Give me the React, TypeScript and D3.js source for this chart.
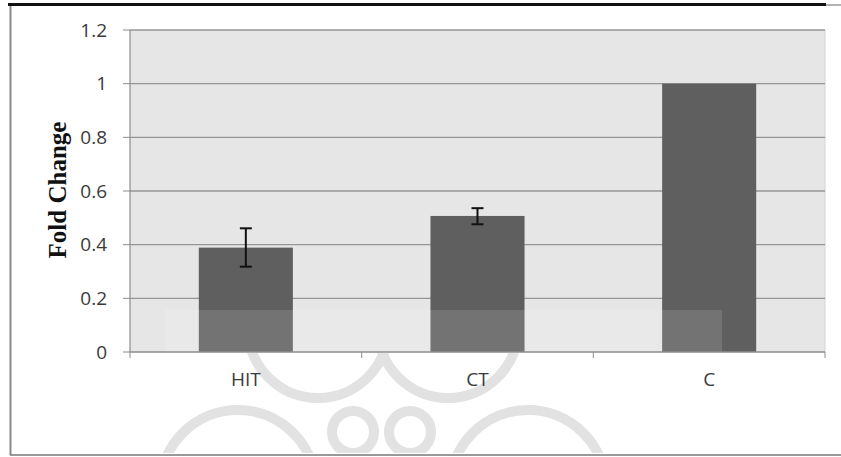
import { useEffect, useRef } from 'react';
import * as d3 from 'd3';

const categories = ['HIT', 'CT', 'C'];
const foldValues = [0.389, 0.507, 1.0];
const errLow = [0.318, 0.476, null];
const errHigh = [0.461, 0.536, null];
const yTicks = [0, 0.2, 0.4, 0.6, 0.8, 1, 1.2];

const W = 841;
const H = 457;

export default function App() {
  const ref = useRef<SVGSVGElement>(null);

  useEffect(() => {
    if (!ref.current) return;
    const svg = d3.select(ref.current);
    svg.selectAll('*').remove();

    const margin = { top: 30, right: 16, bottom: 105, left: 130 };
    const width = W - margin.left - margin.right;
    const height = H - margin.top - margin.bottom;

    // outer frame
    svg.append('rect').attr('width', W).attr('height', H).attr('fill', '#fff');
    svg.append('line')
      .attr('x1', 8).attr('x2', 826).attr('y1', 4.5).attr('y2', 4.5)
      .attr('stroke', '#111').attr('stroke-width', 3);
    svg.append('line')
      .attr('x1', 826).attr('x2', 841).attr('y1', 5).attr('y2', 5)
      .attr('stroke', '#666').attr('stroke-width', 1);
    svg.append('line')
      .attr('x1', 10.5).attr('x2', 10.5).attr('y1', 6).attr('y2', 455)
      .attr('stroke', '#8a8a8a').attr('stroke-width', 2);
    svg.append('line')
      .attr('x1', 10).attr('x2', W).attr('y1', 455).attr('y2', 455)
      .attr('stroke', '#777').attr('stroke-width', 1.5);

    // watermark arcs below the axis (drawn first, behind the labels)
    svg.append('clipPath').attr('id', 'wm-clip')
      .append('rect').attr('x', 12).attr('y', margin.top + height + 1)
      .attr('width', W).attr('height', 453 - (margin.top + height + 1));
    const wm = svg.append('g').attr('clip-path', 'url(#wm-clip)');
    const rings = [
      { cx: 318, cy: 328, r: 70 },
      { cx: 448, cy: 328, r: 70 },
      { cx: 353, cy: 432, r: 21 },
      { cx: 410, cy: 432, r: 21 },
      { cx: 238, cy: 488, r: 78 },
      { cx: 528, cy: 488, r: 78 },
    ];
    wm.selectAll('circle').data(rings).join('circle')
      .attr('cx', d => d.cx).attr('cy', d => d.cy).attr('r', d => d.r)
      .attr('fill', 'none').attr('stroke', '#e2e2e2').attr('stroke-width', 10);

    const g = svg.append('g').attr('transform', `translate(${margin.left},${margin.top})`);

    const x = d3.scaleBand().domain(categories).range([0, width]).paddingInner(0.594).paddingOuter(0.297);
    const xc = d3.scaleBand().domain(categories).range([0, width]);
    const y = d3.scaleLinear().domain([0, 1.2]).range([height, 0]);

    // plot background
    g.append('rect').attr('width', width).attr('height', height).attr('fill', '#e6e6e6');
    g.append('line')
      .attr('x1', width).attr('x2', width).attr('y1', 0).attr('y2', height)
      .attr('stroke', '#d4d4d4');

    // gridlines
    g.selectAll('.grid')
      .data(yTicks.filter(d => d > 0))
      .join('line')
      .attr('x1', 0).attr('x2', width)
      .attr('y1', d => y(d)).attr('y2', d => y(d))
      .attr('stroke', '#969696').attr('stroke-width', 1.3);

    // bars
    g.selectAll('.bar')
      .data(categories)
      .join('rect')
      .attr('x', d => x(d)!)
      .attr('y', (d, i) => y(foldValues[i]))
      .attr('width', x.bandwidth())
      .attr('height', (d, i) => height - y(foldValues[i]))
      .attr('fill', '#5f5f5f');

    // watermark lightening band
    g.append('rect')
      .attr('x', 165 - margin.left).attr('y', 310 - margin.top)
      .attr('width', 722 - 165).attr('height', height - (310 - margin.top))
      .attr('fill', '#fff').attr('opacity', 0.13);

    // error bars
    const errData = categories
      .map((c, i) => ({ c, lo: errLow[i], hi: errHigh[i] }))
      .filter(d => d.lo != null && d.hi != null) as { c: string; lo: number; hi: number }[];
    const eg = g.selectAll('.err').data(errData).join('g')
      .attr('transform', d => `translate(${x(d.c)! + x.bandwidth() / 2},0)`);
    eg.append('line')
      .attr('y1', d => y(d.lo)).attr('y2', d => y(d.hi))
      .attr('stroke', '#111').attr('stroke-width', 2);
    eg.append('line')
      .attr('x1', -6).attr('x2', 6)
      .attr('y1', d => y(d.hi)).attr('y2', d => y(d.hi))
      .attr('stroke', '#111').attr('stroke-width', 2);
    eg.append('line')
      .attr('x1', -6).attr('x2', 6)
      .attr('y1', d => y(d.lo)).attr('y2', d => y(d.lo))
      .attr('stroke', '#111').attr('stroke-width', 2);

    // axes
    g.append('line')
      .attr('x1', 0).attr('x2', width).attr('y1', height).attr('y2', height)
      .attr('stroke', '#8c8c8c').attr('stroke-width', 1.5);
    g.append('line')
      .attr('x1', 0).attr('x2', 0).attr('y1', 0).attr('y2', height)
      .attr('stroke', '#8c8c8c').attr('stroke-width', 1.2);

    g.selectAll('.ytick')
      .data(yTicks)
      .join('line')
      .attr('x1', -7).attr('x2', 0)
      .attr('y1', d => y(d)).attr('y2', d => y(d))
      .attr('stroke', '#8c8c8c');
    g.selectAll('.ylab')
      .data(yTicks)
      .join('text')
      .attr('x', -23)
      .attr('y', d => y(d))
      .attr('dy', '0.35em')
      .attr('text-anchor', 'end')
      .style('font-family', '"Open Sans", sans-serif')
      .style('font-size', '19px')
      .style('fill', '#3a3a3a')
      .text(d => String(d));

    const boundaries = [0, ...categories.map(c => xc(c)! + xc.bandwidth())];
    g.selectAll('.xtick')
      .data(boundaries)
      .join('line')
      .attr('x1', d => d).attr('x2', d => d)
      .attr('y1', height).attr('y2', height + 6)
      .attr('stroke', '#8c8c8c');
    g.selectAll('.xlab')
      .data(categories)
      .join('text')
      .attr('x', d => x(d)! + x.bandwidth() / 2)
      .attr('y', height + 27)
      .attr('dy', '0.35em')
      .attr('text-anchor', 'middle')
      .style('font-family', '"Open Sans", sans-serif')
      .style('font-size', '19px')
      .style('fill', '#3a3a3a')
      .text(d => d);

    // y title
    svg.append('text')
      .attr('transform', `translate(57,${margin.top + 160}) rotate(-90)`)
      .attr('text-anchor', 'middle')
      .attr('dy', '0.35em')
      .style('font-family', '"Liberation Serif", serif')
      .style('font-weight', 'bold')
      .style('font-size', '25px')
      .style('fill', '#111')
      .text('Fold  Change');
  }, []);

  return (
    <svg ref={ref} width={W} height={H} style={{ position: 'absolute', left: 0, top: 0 }} />
  );
}
